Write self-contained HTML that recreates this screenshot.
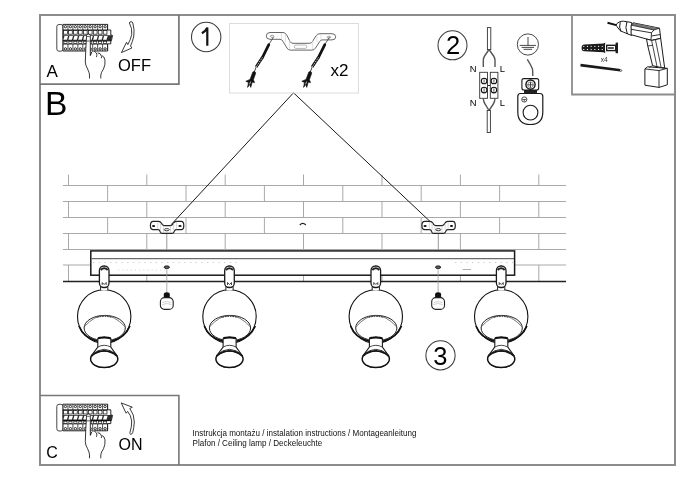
<!DOCTYPE html>
<html><head><meta charset="utf-8">
<style>
html,body{margin:0;padding:0;background:#fff;width:688px;height:486px;overflow:hidden}
svg{position:absolute;left:0;top:0;will-change:transform}
text{font-family:"Liberation Sans",sans-serif;fill:#000}
</style></head><body>
<svg width="688" height="486" viewBox="0 0 688 486">


<g id="frame" fill="none" stroke="#8c8c8c" stroke-width="2">
  <rect x="40" y="15" width="635" height="450"/>
  <path d="M40 84.2H178.9V15" stroke="#777" stroke-width="1.7"/>
  <path d="M40 395.5H178.9V465" stroke="#777" stroke-width="1.6"/>
  <path d="M572 15V94.5H675" stroke-width="1.8"/>
</g>

<!-- brick wall -->
<g id="bricks" stroke="#a9a9a9" stroke-width="1" fill="none">
  <path d="M63 185.5H566M63 201.5H566M63 217.5H566M63 233.5H566M63 249.5H566M63 265H566"/>
  <path d="M68.5 174.5V185.5M146.8 174.5V185.5M225.2 174.5V185.5M303.5 174.5V185.5M382 174.5V185.5M460.4 174.5V185.5M538.8 174.5V185.5"/>
  <path d="M107.6 185.5V201.5M186 185.5V201.5M264.4 185.5V201.5M342.8 185.5V201.5M421.2 185.5V201.5M499.6 185.5V201.5"/>
  <path d="M68.5 201.5V217.5M146.8 201.5V217.5M225.2 201.5V217.5M303.5 201.5V217.5M382 201.5V217.5M460.4 201.5V217.5M538.8 201.5V217.5"/>
  <path d="M107.6 217.5V233.5M186 217.5V233.5M264.4 217.5V233.5M342.8 217.5V233.5M421.2 217.5V233.5M499.6 217.5V233.5"/>
  <path d="M68.5 233.5V249.5M146.8 233.5V249.5M225.2 233.5V249.5M303.5 233.5V249.5M382 233.5V249.5M460.4 233.5V249.5M538.8 233.5V249.5"/>
  <path d="M107.6 249.5V265M499.6 249.5V265M186 249.5V265M264.4 249.5V265M342.8 249.5V265M421.2 249.5V265"/>
  <path d="M68.5 265V281M146.8 265V281M225.2 265V281M303.5 265V281M382 265V281M460.4 265V281M538.8 265V281"/>
  <path d="M166.8 233V251M438.3 233V251" stroke="#999"/>
</g>
<path d="M63 281.5H566" stroke="#222" stroke-width="1.3"/>
<path d="M299.8 225Q302.8 221.8 305.8 225" fill="none" stroke="#222" stroke-width="1.2"/>

<!-- suspension lines -->
<path d="M171.3 224.5L293.5 92.8L433.8 225" fill="none" stroke="#1a1a1a" stroke-width="1"/>
<g transform="translate(166.8,0)">
  <!-- centered at x=0 (center hole) -->
  <path d="M-13.6 221.3H-8.2Q-6.5 221.3 -5.3 223.2L-4.6 224.4Q-3.8 225.6 -2.4 225.6H3.6Q5 225.6 5.8 224.4L6.6 223.2Q7.6 221.3 9.4 221.3H14.6Q17 221.3 17 225.5Q17 229.7 14.6 229.7H9.6Q8.4 229.7 7.8 230.8L7 232.2Q6.4 233.4 4.6 233.4H-4.3Q-5.8 233.4 -6.4 232.2L-6.8 231.2Q-7.3 229.7 -8.6 229.7H-13.6Q-16.4 229.7 -16.4 225.5Q-16.4 221.3 -13.6 221.3Z" fill="#fff" stroke="#222" stroke-width="1.2"/>
  <path d="M-9 221.8V229.4M-6.2 223V230M-3.3 225.8V233M3.7 225.8V233M6.8 223V230M9.8 221.8V229.4" stroke="#bbb" stroke-width="0.6"/>
  <ellipse cx="-13.2" cy="225.9" rx="1.6" ry="1" fill="#111"/>
  <ellipse cx="13.2" cy="225.9" rx="1.6" ry="1" fill="#111"/>
  <ellipse cx="0" cy="229.7" rx="2.5" ry="1.1" fill="#fff" stroke="#222" stroke-width="0.9"/>
</g>
<g transform="translate(438.3,0)">
  <!-- centered at x=0 (center hole) -->
  <path d="M-13.6 221.3H-8.2Q-6.5 221.3 -5.3 223.2L-4.6 224.4Q-3.8 225.6 -2.4 225.6H3.6Q5 225.6 5.8 224.4L6.6 223.2Q7.6 221.3 9.4 221.3H14.6Q17 221.3 17 225.5Q17 229.7 14.6 229.7H9.6Q8.4 229.7 7.8 230.8L7 232.2Q6.4 233.4 4.6 233.4H-4.3Q-5.8 233.4 -6.4 232.2L-6.8 231.2Q-7.3 229.7 -8.6 229.7H-13.6Q-16.4 229.7 -16.4 225.5Q-16.4 221.3 -13.6 221.3Z" fill="#fff" stroke="#222" stroke-width="1.2"/>
  <path d="M-9 221.8V229.4M-6.2 223V230M-3.3 225.8V233M3.7 225.8V233M6.8 223V230M9.8 221.8V229.4" stroke="#bbb" stroke-width="0.6"/>
  <ellipse cx="-13.2" cy="225.9" rx="1.6" ry="1" fill="#111"/>
  <ellipse cx="13.2" cy="225.9" rx="1.6" ry="1" fill="#111"/>
  <ellipse cx="0" cy="229.7" rx="2.5" ry="1.1" fill="#fff" stroke="#222" stroke-width="0.9"/>
</g>

<!-- bar -->
<rect x="90.8" y="250.9" width="423.8" height="24.3" fill="#fff" stroke="#1a1a1a" stroke-width="1.5"/>
<path d="M91.5 258.7H514" stroke="#333" stroke-width="0.9"/>
<path d="M93 262.5H240M455 262.5H513" stroke="#bbb" stroke-width="0.8" stroke-dasharray="1.2 4.5"/>
<path d="M118 270H166" stroke="#ccc" stroke-width="0.8" stroke-dasharray="1.2 3"/>
<path d="M462.7 269.5H471" stroke="#999" stroke-width="0.8"/>

<g transform="translate(166.8,0)">
  <ellipse cx="0" cy="267.2" rx="2.6" ry="1.3" fill="#666" stroke="#111" stroke-width="1"/>
  <path d="M0 268.5V293" stroke="#999" stroke-width="0.8"/>
  <path d="M-3 298V294.5Q-3 292.3 0 292.3Q3 292.3 3 294.5V298Z" fill="#111"/>
  <rect x="-6.4" y="297.6" width="12.8" height="11.8" rx="4" ry="4" fill="#fff" stroke="#222" stroke-width="1.1"/>
  <path d="M-4.5 302.5Q0 300.5 4.5 302.5M-4.5 304.5Q0 302.5 4.5 304.5" fill="none" stroke="#bbb" stroke-width="0.7"/>
</g>
<g transform="translate(438.1,0)">
  <ellipse cx="0" cy="267.2" rx="2.6" ry="1.3" fill="#666" stroke="#111" stroke-width="1"/>
  <path d="M0 268.5V293" stroke="#999" stroke-width="0.8"/>
  <path d="M-3 298V294.5Q-3 292.3 0 292.3Q3 292.3 3 294.5V298Z" fill="#111"/>
  <rect x="-6.4" y="297.6" width="12.8" height="11.8" rx="4" ry="4" fill="#fff" stroke="#222" stroke-width="1.1"/>
  <path d="M-4.5 302.5Q0 300.5 4.5 302.5M-4.5 304.5Q0 302.5 4.5 304.5" fill="none" stroke="#bbb" stroke-width="0.7"/>
</g>
<g transform="translate(104.2,0)">
  <circle cx="0" cy="316.4" r="26.7" fill="#fff" stroke="#111" stroke-width="1.1"/>
  <ellipse cx="0.5" cy="328" rx="20.6" ry="12.6" fill="#fff" stroke="#222" stroke-width="1"/>
  <path d="M-19.6 326.5Q0 304.5 20.6 326.5" fill="none" stroke="#555" stroke-width="0.8"/>
  <path d="M-7 317.2Q0 315.6 7 317.2" fill="none" stroke="#222" stroke-width="1" stroke-dasharray="1.5 1"/>
  <path d="M-25.2 326Q-21 338 -6 341.3M25.7 326Q21 338 7 341.3" fill="none" stroke="#111" stroke-width="1.7"/>
  <path d="M-3.6 290.3V286.5H3.6V290.3" fill="#fff" stroke="#222" stroke-width="1"/>
  <rect x="-4.8" y="266" width="9.6" height="21.5" rx="4.5" ry="4.5" fill="#fff" stroke="#1a1a1a" stroke-width="1.3"/>
  <path d="M-3.5 270Q0 266.5 3.5 270" fill="none" stroke="#222" stroke-width="2"/>
  <path d="M-2 285V282.5L0 284.5L2 282.5V285" fill="none" stroke="#333" stroke-width="0.9"/>
  <path d="M-6.4 347V338.5Q-5 336.8 -3 337.6Q0 336.3 3 337.6Q5 336.8 6.6 338.5V347L13 356Q13.7 367.5 0 367.5Q-13.7 367.5 -13 356Z" fill="#fff" stroke="#1a1a1a" stroke-width="1.1"/>
  <path d="M-6.2 338.4Q0 336.6 6.4 338.4" fill="none" stroke="#111" stroke-width="1.8"/>
  <ellipse cx="0" cy="359.1" rx="13.6" ry="8.4" fill="#fff" stroke="#111" stroke-width="1.5"/><path d="M-12.5 356Q0 346.5 12.5 356" fill="none" stroke="#111" stroke-width="1.2"/>
  <path d="M-12.8 355.2Q0 343.4 12.8 355.2" fill="none" stroke="#222" stroke-width="0.9"/>
  <path d="M-6.4 347Q0 343.6 6.6 347" fill="none" stroke="#333" stroke-width="0.9"/>
</g>
<g transform="translate(229.5,0)">
  <circle cx="0" cy="316.4" r="26.7" fill="#fff" stroke="#111" stroke-width="1.1"/>
  <ellipse cx="0.5" cy="328" rx="20.6" ry="12.6" fill="#fff" stroke="#222" stroke-width="1"/>
  <path d="M-19.6 326.5Q0 304.5 20.6 326.5" fill="none" stroke="#555" stroke-width="0.8"/>
  <path d="M-7 317.2Q0 315.6 7 317.2" fill="none" stroke="#222" stroke-width="1" stroke-dasharray="1.5 1"/>
  <path d="M-25.2 326Q-21 338 -6 341.3M25.7 326Q21 338 7 341.3" fill="none" stroke="#111" stroke-width="1.7"/>
  <path d="M-3.6 290.3V286.5H3.6V290.3" fill="#fff" stroke="#222" stroke-width="1"/>
  <rect x="-4.8" y="266" width="9.6" height="21.5" rx="4.5" ry="4.5" fill="#fff" stroke="#1a1a1a" stroke-width="1.3"/>
  <path d="M-3.5 270Q0 266.5 3.5 270" fill="none" stroke="#222" stroke-width="2"/>
  <path d="M-2 285V282.5L0 284.5L2 282.5V285" fill="none" stroke="#333" stroke-width="0.9"/>
  <path d="M-6.4 347V338.5Q-5 336.8 -3 337.6Q0 336.3 3 337.6Q5 336.8 6.6 338.5V347L13 356Q13.7 367.5 0 367.5Q-13.7 367.5 -13 356Z" fill="#fff" stroke="#1a1a1a" stroke-width="1.1"/>
  <path d="M-6.2 338.4Q0 336.6 6.4 338.4" fill="none" stroke="#111" stroke-width="1.8"/>
  <ellipse cx="0" cy="359.1" rx="13.6" ry="8.4" fill="#fff" stroke="#111" stroke-width="1.5"/><path d="M-12.5 356Q0 346.5 12.5 356" fill="none" stroke="#111" stroke-width="1.2"/>
  <path d="M-12.8 355.2Q0 343.4 12.8 355.2" fill="none" stroke="#222" stroke-width="0.9"/>
  <path d="M-6.4 347Q0 343.6 6.6 347" fill="none" stroke="#333" stroke-width="0.9"/>
</g>
<g transform="translate(375.8,0)">
  <circle cx="0" cy="316.4" r="26.7" fill="#fff" stroke="#111" stroke-width="1.1"/>
  <ellipse cx="0.5" cy="328" rx="20.6" ry="12.6" fill="#fff" stroke="#222" stroke-width="1"/>
  <path d="M-19.6 326.5Q0 304.5 20.6 326.5" fill="none" stroke="#555" stroke-width="0.8"/>
  <path d="M-7 317.2Q0 315.6 7 317.2" fill="none" stroke="#222" stroke-width="1" stroke-dasharray="1.5 1"/>
  <path d="M-25.2 326Q-21 338 -6 341.3M25.7 326Q21 338 7 341.3" fill="none" stroke="#111" stroke-width="1.7"/>
  <path d="M-3.6 290.3V286.5H3.6V290.3" fill="#fff" stroke="#222" stroke-width="1"/>
  <rect x="-4.8" y="266" width="9.6" height="21.5" rx="4.5" ry="4.5" fill="#fff" stroke="#1a1a1a" stroke-width="1.3"/>
  <path d="M-3.5 270Q0 266.5 3.5 270" fill="none" stroke="#222" stroke-width="2"/>
  <path d="M-2 285V282.5L0 284.5L2 282.5V285" fill="none" stroke="#333" stroke-width="0.9"/>
  <path d="M-6.4 347V338.5Q-5 336.8 -3 337.6Q0 336.3 3 337.6Q5 336.8 6.6 338.5V347L13 356Q13.7 367.5 0 367.5Q-13.7 367.5 -13 356Z" fill="#fff" stroke="#1a1a1a" stroke-width="1.1"/>
  <path d="M-6.2 338.4Q0 336.6 6.4 338.4" fill="none" stroke="#111" stroke-width="1.8"/>
  <ellipse cx="0" cy="359.1" rx="13.6" ry="8.4" fill="#fff" stroke="#111" stroke-width="1.5"/><path d="M-12.5 356Q0 346.5 12.5 356" fill="none" stroke="#111" stroke-width="1.2"/>
  <path d="M-12.8 355.2Q0 343.4 12.8 355.2" fill="none" stroke="#222" stroke-width="0.9"/>
  <path d="M-6.4 347Q0 343.6 6.6 347" fill="none" stroke="#333" stroke-width="0.9"/>
</g>
<g transform="translate(501.2,0)">
  <circle cx="0" cy="316.4" r="26.7" fill="#fff" stroke="#111" stroke-width="1.1"/>
  <ellipse cx="0.5" cy="328" rx="20.6" ry="12.6" fill="#fff" stroke="#222" stroke-width="1"/>
  <path d="M-19.6 326.5Q0 304.5 20.6 326.5" fill="none" stroke="#555" stroke-width="0.8"/>
  <path d="M-7 317.2Q0 315.6 7 317.2" fill="none" stroke="#222" stroke-width="1" stroke-dasharray="1.5 1"/>
  <path d="M-25.2 326Q-21 338 -6 341.3M25.7 326Q21 338 7 341.3" fill="none" stroke="#111" stroke-width="1.7"/>
  <path d="M-3.6 290.3V286.5H3.6V290.3" fill="#fff" stroke="#222" stroke-width="1"/>
  <rect x="-4.8" y="266" width="9.6" height="21.5" rx="4.5" ry="4.5" fill="#fff" stroke="#1a1a1a" stroke-width="1.3"/>
  <path d="M-3.5 270Q0 266.5 3.5 270" fill="none" stroke="#222" stroke-width="2"/>
  <path d="M-2 285V282.5L0 284.5L2 282.5V285" fill="none" stroke="#333" stroke-width="0.9"/>
  <path d="M-6.4 347V338.5Q-5 336.8 -3 337.6Q0 336.3 3 337.6Q5 336.8 6.6 338.5V347L13 356Q13.7 367.5 0 367.5Q-13.7 367.5 -13 356Z" fill="#fff" stroke="#1a1a1a" stroke-width="1.1"/>
  <path d="M-6.2 338.4Q0 336.6 6.4 338.4" fill="none" stroke="#111" stroke-width="1.8"/>
  <ellipse cx="0" cy="359.1" rx="13.6" ry="8.4" fill="#fff" stroke="#111" stroke-width="1.5"/><path d="M-12.5 356Q0 346.5 12.5 356" fill="none" stroke="#111" stroke-width="1.2"/>
  <path d="M-12.8 355.2Q0 343.4 12.8 355.2" fill="none" stroke="#222" stroke-width="0.9"/>
  <path d="M-6.4 347Q0 343.6 6.6 347" fill="none" stroke="#333" stroke-width="0.9"/>
</g>

<g transform="translate(0,0)">
<rect x="56.8" y="24.5" width="6.3" height="26.7" rx="2.2" fill="#fff" stroke="#333" stroke-width="0.9"/>
<path d="M63 24.4H107.6V30H110.8V35L112.5 35.5L111.5 40.3H110.8V43.8H107.6V51H63Z" fill="#fff" stroke="#111" stroke-width="0.9"/>
<path d="M63 35.2H112.3L111.3 40.6H63Z" fill="#2a2a2a"/>
<path d="M63 40.8H111.3" stroke="#000" stroke-width="1"/>
<path d="M67.95 24.4V30M67.95 44V51" stroke="#222" stroke-width="0.8"/>
<circle cx="65.47" cy="26.7" r="1.15" fill="#fff" stroke="#000" stroke-width="0.8"/>
<rect x="63.60" y="30.6" width="3.75" height="3.6" fill="#fff" stroke="#111" stroke-width="0.75"/>
<path d="M64.50 35.9H68.05L66.95 39.7H63.40Z" fill="#fff"/>
<rect x="63.90" y="41.5" width="3.15" height="2" fill="#fff" stroke="#222" stroke-width="0.7"/>
<circle cx="65.47" cy="48.9" r="1.2" fill="#fff" stroke="#000" stroke-width="0.8"/>
<path d="M72.90 24.4V30M72.90 44V51" stroke="#222" stroke-width="0.8"/>
<circle cx="70.42" cy="26.7" r="1.15" fill="#fff" stroke="#000" stroke-width="0.8"/>
<rect x="68.55" y="30.6" width="3.75" height="3.6" fill="#fff" stroke="#111" stroke-width="0.75"/>
<path d="M69.45 35.9H73.00L71.90 39.7H68.35Z" fill="#fff"/>
<rect x="68.85" y="41.5" width="3.15" height="2" fill="#fff" stroke="#222" stroke-width="0.7"/>
<circle cx="70.42" cy="48.9" r="1.2" fill="#fff" stroke="#000" stroke-width="0.8"/>
<path d="M77.85 24.4V30M77.85 44V51" stroke="#222" stroke-width="0.8"/>
<circle cx="75.38" cy="26.7" r="1.15" fill="#fff" stroke="#000" stroke-width="0.8"/>
<rect x="73.50" y="30.6" width="3.75" height="3.6" fill="#fff" stroke="#111" stroke-width="0.75"/>
<path d="M74.40 35.9H77.95L76.85 39.7H73.30Z" fill="#fff"/>
<rect x="73.80" y="41.5" width="3.15" height="2" fill="#fff" stroke="#222" stroke-width="0.7"/>
<circle cx="75.38" cy="48.9" r="1.2" fill="#fff" stroke="#000" stroke-width="0.8"/>
<path d="M82.80 24.4V30M82.80 44V51" stroke="#222" stroke-width="0.8"/>
<circle cx="80.32" cy="26.7" r="1.15" fill="#fff" stroke="#000" stroke-width="0.8"/>
<rect x="78.45" y="30.6" width="3.75" height="3.6" fill="#fff" stroke="#111" stroke-width="0.75"/>
<path d="M79.35 35.9H82.90L81.80 39.7H78.25Z" fill="#fff"/>
<rect x="78.75" y="41.5" width="3.15" height="2" fill="#fff" stroke="#222" stroke-width="0.7"/>
<circle cx="80.32" cy="48.9" r="1.2" fill="#fff" stroke="#000" stroke-width="0.8"/>
<path d="M87.75 24.4V30M87.75 44V51" stroke="#222" stroke-width="0.8"/>
<circle cx="85.27" cy="26.7" r="1.15" fill="#fff" stroke="#000" stroke-width="0.8"/>
<rect x="83.40" y="30.6" width="3.75" height="3.6" fill="#fff" stroke="#111" stroke-width="0.75"/>
<path d="M84.30 35.9H87.85L86.75 39.7H83.20Z" fill="#fff"/>
<rect x="83.70" y="41.5" width="3.15" height="2" fill="#fff" stroke="#222" stroke-width="0.7"/>
<circle cx="85.27" cy="48.9" r="1.2" fill="#fff" stroke="#000" stroke-width="0.8"/>
<path d="M92.70 24.4V30M92.70 44V51" stroke="#222" stroke-width="0.8"/>
<circle cx="90.22" cy="26.7" r="1.15" fill="#fff" stroke="#000" stroke-width="0.8"/>
<rect x="88.35" y="30.6" width="3.75" height="3.6" fill="#fff" stroke="#111" stroke-width="0.75"/>
<path d="M89.25 35.9H92.80L91.70 39.7H88.15Z" fill="#fff"/>
<rect x="88.65" y="41.5" width="3.15" height="2" fill="#fff" stroke="#222" stroke-width="0.7"/>
<circle cx="90.22" cy="48.9" r="1.2" fill="#fff" stroke="#000" stroke-width="0.8"/>
<path d="M97.65 24.4V30M97.65 44V51" stroke="#222" stroke-width="0.8"/>
<circle cx="95.17" cy="26.7" r="1.15" fill="#fff" stroke="#000" stroke-width="0.8"/>
<rect x="93.30" y="30.6" width="3.75" height="3.6" fill="#fff" stroke="#111" stroke-width="0.75"/>
<path d="M94.20 35.9H97.75L96.65 39.7H93.10Z" fill="#fff"/>
<rect x="93.60" y="41.5" width="3.15" height="2" fill="#fff" stroke="#222" stroke-width="0.7"/>
<circle cx="95.17" cy="48.9" r="1.2" fill="#fff" stroke="#000" stroke-width="0.8"/>
<path d="M102.60 24.4V30M102.60 44V51" stroke="#222" stroke-width="0.8"/>
<circle cx="100.12" cy="26.7" r="1.15" fill="#fff" stroke="#000" stroke-width="0.8"/>
<rect x="98.25" y="30.6" width="3.75" height="3.6" fill="#fff" stroke="#111" stroke-width="0.75"/>
<path d="M99.15 35.9H102.70L101.60 39.7H98.05Z" fill="#fff"/>
<rect x="98.55" y="41.5" width="3.15" height="2" fill="#fff" stroke="#222" stroke-width="0.7"/>
<circle cx="100.12" cy="48.9" r="1.2" fill="#fff" stroke="#000" stroke-width="0.8"/>
<path d="M107.55 24.4V30M107.55 44V51" stroke="#222" stroke-width="0.8"/>
<circle cx="105.07" cy="26.7" r="1.15" fill="#fff" stroke="#000" stroke-width="0.8"/>
<rect x="103.20" y="30.6" width="3.75" height="3.6" fill="#fff" stroke="#111" stroke-width="0.75"/>
<path d="M104.10 35.9H107.65L106.55 39.7H103.00Z" fill="#fff"/>
<rect x="103.50" y="41.5" width="3.15" height="2" fill="#fff" stroke="#222" stroke-width="0.7"/>
<circle cx="105.07" cy="48.9" r="1.2" fill="#fff" stroke="#000" stroke-width="0.8"/>
<path d="M63 29.9H107.6M63 44.1H107.6" stroke="#111" stroke-width="0.8"/>
<path d="M86.6 35.5Q86.6 34.2 88.4 34.2Q90.3 34.2 90.3 35.5V55.6L90.6 52.5Q91.5 50.4 93 50.4Q95.5 50.6 96.8 54.1V57Q97 53.6 98.5 52.7Q100.5 52.5 101.6 56.4V58.2Q102 55.6 102.6 55.6Q104.2 56.2 105 60Q105.4 65 103.5 69Q101 72.5 100.7 74.6V79.5H89.6V75Q89.4 72.7 87.8 69.5Q85.3 65 85.3 62Q85.8 50 86.6 35.5Z" fill="#fff" stroke="none"/>
<path d="M86.6 35.5Q86.6 34.2 88.4 34.2Q90.3 34.2 90.3 35.5V55.6M86.6 35.5Q85.6 50 85.3 62Q85.3 65 87.6 69Q89.4 72.5 89.5 75V78.5M92 51.2Q95.5 50.6 96.8 54.1Q97 55.8 96.4 57.1M97.6 52.9Q100.5 52.6 101.6 56.4L101.3 58.2M102 55.6Q104.2 56.2 105 60Q105.4 65 103.5 69Q101 72.5 100.8 75V78.5" fill="none" stroke="#222" stroke-width="0.9"/>
<path d="M87.2 36.5H89.7M87 41H89.8" stroke="#333" stroke-width="0.8"/>
<path d="M90.4 55.5L91.6 52" stroke="#111" stroke-width="1"/>
</g>
<g transform="translate(0,379.8)">
<rect x="56.8" y="24.5" width="6.3" height="26.7" rx="2.2" fill="#fff" stroke="#333" stroke-width="0.9"/>
<path d="M63 24.4H107.6V30H110.8V35L112.5 35.5L111.5 40.3H110.8V43.8H107.6V51H63Z" fill="#fff" stroke="#111" stroke-width="0.9"/>
<path d="M63 35.2H112.3L111.3 40.6H63Z" fill="#2a2a2a"/>
<path d="M63 40.8H111.3" stroke="#000" stroke-width="1"/>
<path d="M67.95 24.4V30M67.95 44V51" stroke="#222" stroke-width="0.8"/>
<circle cx="65.47" cy="26.7" r="1.15" fill="#fff" stroke="#000" stroke-width="0.8"/>
<rect x="63.60" y="30.6" width="3.75" height="3.6" fill="#fff" stroke="#111" stroke-width="0.75"/>
<path d="M64.50 35.9H68.05L66.95 39.7H63.40Z" fill="#fff"/>
<rect x="63.90" y="41.5" width="3.15" height="2" fill="#fff" stroke="#222" stroke-width="0.7"/>
<circle cx="65.47" cy="48.9" r="1.2" fill="#fff" stroke="#000" stroke-width="0.8"/>
<path d="M72.90 24.4V30M72.90 44V51" stroke="#222" stroke-width="0.8"/>
<circle cx="70.42" cy="26.7" r="1.15" fill="#fff" stroke="#000" stroke-width="0.8"/>
<rect x="68.55" y="30.6" width="3.75" height="3.6" fill="#fff" stroke="#111" stroke-width="0.75"/>
<path d="M69.45 35.9H73.00L71.90 39.7H68.35Z" fill="#fff"/>
<rect x="68.85" y="41.5" width="3.15" height="2" fill="#fff" stroke="#222" stroke-width="0.7"/>
<circle cx="70.42" cy="48.9" r="1.2" fill="#fff" stroke="#000" stroke-width="0.8"/>
<path d="M77.85 24.4V30M77.85 44V51" stroke="#222" stroke-width="0.8"/>
<circle cx="75.38" cy="26.7" r="1.15" fill="#fff" stroke="#000" stroke-width="0.8"/>
<rect x="73.50" y="30.6" width="3.75" height="3.6" fill="#fff" stroke="#111" stroke-width="0.75"/>
<path d="M74.40 35.9H77.95L76.85 39.7H73.30Z" fill="#fff"/>
<rect x="73.80" y="41.5" width="3.15" height="2" fill="#fff" stroke="#222" stroke-width="0.7"/>
<circle cx="75.38" cy="48.9" r="1.2" fill="#fff" stroke="#000" stroke-width="0.8"/>
<path d="M82.80 24.4V30M82.80 44V51" stroke="#222" stroke-width="0.8"/>
<circle cx="80.32" cy="26.7" r="1.15" fill="#fff" stroke="#000" stroke-width="0.8"/>
<rect x="78.45" y="30.6" width="3.75" height="3.6" fill="#fff" stroke="#111" stroke-width="0.75"/>
<path d="M79.35 35.9H82.90L81.80 39.7H78.25Z" fill="#fff"/>
<rect x="78.75" y="41.5" width="3.15" height="2" fill="#fff" stroke="#222" stroke-width="0.7"/>
<circle cx="80.32" cy="48.9" r="1.2" fill="#fff" stroke="#000" stroke-width="0.8"/>
<path d="M87.75 24.4V30M87.75 44V51" stroke="#222" stroke-width="0.8"/>
<circle cx="85.27" cy="26.7" r="1.15" fill="#fff" stroke="#000" stroke-width="0.8"/>
<rect x="83.40" y="30.6" width="3.75" height="3.6" fill="#fff" stroke="#111" stroke-width="0.75"/>
<path d="M84.30 35.9H87.85L86.75 39.7H83.20Z" fill="#fff"/>
<rect x="83.70" y="41.5" width="3.15" height="2" fill="#fff" stroke="#222" stroke-width="0.7"/>
<circle cx="85.27" cy="48.9" r="1.2" fill="#fff" stroke="#000" stroke-width="0.8"/>
<path d="M92.70 24.4V30M92.70 44V51" stroke="#222" stroke-width="0.8"/>
<circle cx="90.22" cy="26.7" r="1.15" fill="#fff" stroke="#000" stroke-width="0.8"/>
<rect x="88.35" y="30.6" width="3.75" height="3.6" fill="#fff" stroke="#111" stroke-width="0.75"/>
<path d="M89.25 35.9H92.80L91.70 39.7H88.15Z" fill="#fff"/>
<rect x="88.65" y="41.5" width="3.15" height="2" fill="#fff" stroke="#222" stroke-width="0.7"/>
<circle cx="90.22" cy="48.9" r="1.2" fill="#fff" stroke="#000" stroke-width="0.8"/>
<path d="M97.65 24.4V30M97.65 44V51" stroke="#222" stroke-width="0.8"/>
<circle cx="95.17" cy="26.7" r="1.15" fill="#fff" stroke="#000" stroke-width="0.8"/>
<rect x="93.30" y="30.6" width="3.75" height="3.6" fill="#fff" stroke="#111" stroke-width="0.75"/>
<path d="M94.20 35.9H97.75L96.65 39.7H93.10Z" fill="#fff"/>
<rect x="93.60" y="41.5" width="3.15" height="2" fill="#fff" stroke="#222" stroke-width="0.7"/>
<circle cx="95.17" cy="48.9" r="1.2" fill="#fff" stroke="#000" stroke-width="0.8"/>
<path d="M102.60 24.4V30M102.60 44V51" stroke="#222" stroke-width="0.8"/>
<circle cx="100.12" cy="26.7" r="1.15" fill="#fff" stroke="#000" stroke-width="0.8"/>
<rect x="98.25" y="30.6" width="3.75" height="3.6" fill="#fff" stroke="#111" stroke-width="0.75"/>
<path d="M99.15 35.9H102.70L101.60 39.7H98.05Z" fill="#fff"/>
<rect x="98.55" y="41.5" width="3.15" height="2" fill="#fff" stroke="#222" stroke-width="0.7"/>
<circle cx="100.12" cy="48.9" r="1.2" fill="#fff" stroke="#000" stroke-width="0.8"/>
<path d="M107.55 24.4V30M107.55 44V51" stroke="#222" stroke-width="0.8"/>
<circle cx="105.07" cy="26.7" r="1.15" fill="#fff" stroke="#000" stroke-width="0.8"/>
<rect x="103.20" y="30.6" width="3.75" height="3.6" fill="#fff" stroke="#111" stroke-width="0.75"/>
<path d="M104.10 35.9H107.65L106.55 39.7H103.00Z" fill="#fff"/>
<rect x="103.50" y="41.5" width="3.15" height="2" fill="#fff" stroke="#222" stroke-width="0.7"/>
<circle cx="105.07" cy="48.9" r="1.2" fill="#fff" stroke="#000" stroke-width="0.8"/>
<path d="M63 29.9H107.6M63 44.1H107.6" stroke="#111" stroke-width="0.8"/>
<path d="M86.6 35.5Q86.6 34.2 88.4 34.2Q90.3 34.2 90.3 35.5V55.6L90.6 52.5Q91.5 50.4 93 50.4Q95.5 50.6 96.8 54.1V57Q97 53.6 98.5 52.7Q100.5 52.5 101.6 56.4V58.2Q102 55.6 102.6 55.6Q104.2 56.2 105 60Q105.4 65 103.5 69Q101 72.5 100.7 74.6V79.5H89.6V75Q89.4 72.7 87.8 69.5Q85.3 65 85.3 62Q85.8 50 86.6 35.5Z" fill="#fff" stroke="none"/>
<path d="M86.6 35.5Q86.6 34.2 88.4 34.2Q90.3 34.2 90.3 35.5V55.6M86.6 35.5Q85.6 50 85.3 62Q85.3 65 87.6 69Q89.4 72.5 89.5 75V78.5M92 51.2Q95.5 50.6 96.8 54.1Q97 55.8 96.4 57.1M97.6 52.9Q100.5 52.6 101.6 56.4L101.3 58.2M102 55.6Q104.2 56.2 105 60Q105.4 65 103.5 69Q101 72.5 100.8 75V78.5" fill="none" stroke="#222" stroke-width="0.9"/>
<path d="M87.2 36.5H89.7M87 41H89.8" stroke="#333" stroke-width="0.8"/>
<path d="M90.4 55.5L91.6 52" stroke="#111" stroke-width="1"/>
</g>
<!-- OFF arrow -->
<path d="M129.4 23Q129.6 21.7 131 21.7Q132.6 21.8 132.8 23Q134.8 30 133.8 36Q132.6 42 130.5 46L131.9 48L121.4 52.6L126.5 42.3L127.8 44.6Q130.6 40 131.7 34.5Q132.5 28.5 129.4 23Z" fill="#fff" stroke="#222" stroke-width="0.9" stroke-linejoin="miter"/>
<!-- ON arrow -->
<path d="M121.2 402.9L132.3 407.2L129.8 408.5Q134.6 415 134.3 422Q134 428 132.7 432.6Q132 434.5 130.6 434.3Q129.5 434 130 432.2Q131.8 427 131.7 421Q131 415 127.6 411.4L126.1 413.2Z" fill="#fff" stroke="#222" stroke-width="0.9"/>

<!-- panel 1 bracket -->
<g id="p1">
<path d="M270 32.5H283Q285.5 32.5 287 35.5L290 41.5Q291 43.3 293 43.3H309.5Q311.5 43.3 312.5 41.5L316 35.8Q317.3 33.7 320 33.7H332Q335.7 33.8 335.7 36.8Q335.7 39.9 332 39.9H322Q320.5 39.9 319.6 41.8L315.5 48Q314.5 50.1 311.8 50.1H290.3Q288 50.1 287 48L283 41.5Q282.2 39.3 280 39.3H270Q266.3 39.3 266.3 35.9Q266.3 32.5 270 32.5Z" fill="#fff" stroke="#666" stroke-width="1"/>
<path d="M281.5 33V39.3M285.5 34V42M289.5 40V49M312.7 40V49M317 35V42M321 34V40" stroke="#ccc" stroke-width="0.6"/>
<rect x="294.3" y="45" width="12.5" height="3.4" rx="1.5" fill="none" stroke="#999" stroke-width="0.7"/>
<ellipse cx="272.2" cy="36.3" rx="1.8" ry="1" fill="#fff" stroke="#666" stroke-width="0.6"/>
<ellipse cx="328.9" cy="37.3" rx="1.8" ry="1" fill="#fff" stroke="#666" stroke-width="0.6"/>
</g>
<g>
<path d="M273.4 37.2L268.8 44.6" stroke="#333" stroke-width="0.8"/>
<path d="M268.8 44.6L262.5 57.3" stroke="#111" stroke-width="2.7" stroke-linecap="round"/>
<path d="M262.5 57.3L256.1 67.1" stroke="#111" stroke-width="2.8"/>
<path d="M262.4 57.5L256.2 67" stroke="#fff" stroke-width="0.9" stroke-dasharray="1.1 1"/>
<path d="M256.1 67.1L254.4 71.8" stroke="#333" stroke-width="0.9"/>
<path d="M254.6 71.3L255.8 73L253.4 79.8L254.6 82.6L252.2 82.2L250.8 87.4L249.6 84.6L247.6 87.4L248.4 82.4L245.8 81.2L250 79.4L252.8 72Z" fill="#111" stroke="#111" stroke-width="0.6" stroke-linejoin="round"/>
<path d="M249.7 84.3L250.6 81.5" stroke="#fff" stroke-width="0.7"/>
</g>
<g transform="translate(56,0)">
<path d="M273.4 37.2L268.8 44.6" stroke="#333" stroke-width="0.8"/>
<path d="M268.8 44.6L262.5 57.3" stroke="#111" stroke-width="2.7" stroke-linecap="round"/>
<path d="M262.5 57.3L256.1 67.1" stroke="#111" stroke-width="2.8"/>
<path d="M262.4 57.5L256.2 67" stroke="#fff" stroke-width="0.9" stroke-dasharray="1.1 1"/>
<path d="M256.1 67.1L254.4 71.8" stroke="#333" stroke-width="0.9"/>
<path d="M254.6 71.3L255.8 73L253.4 79.8L254.6 82.6L252.2 82.2L250.8 87.4L249.6 84.6L247.6 87.4L248.4 82.4L245.8 81.2L250 79.4L252.8 72Z" fill="#111" stroke="#111" stroke-width="0.6" stroke-linejoin="round"/>
<path d="M249.7 84.3L250.6 81.5" stroke="#fff" stroke-width="0.7"/>
</g>

<!-- panel 2: wire connector -->
<g id="p2" fill="none" stroke="#333">
<rect x="487.4" y="27.6" width="3.4" height="22" fill="#fff" stroke-width="0.9"/>
<path d="M489 49.5L484.6 56Q483.3 58 483.3 60.5V67M489 49.5L493.6 56Q495 58 495 60.5V67" stroke="#555" stroke-width="1.4"/>
<rect x="479.7" y="72.3" width="7.8" height="26" fill="#fff" stroke-width="0.9"/>
<rect x="490.3" y="72.3" width="7.6" height="26" fill="#fff" stroke-width="0.9"/>
<circle cx="484.1" cy="81" r="2.8" stroke="#111" stroke-width="1.1"/>
<circle cx="493.9" cy="81" r="2.8" stroke="#111" stroke-width="1.1"/>
<circle cx="484.1" cy="90.1" r="2.8" stroke="#111" stroke-width="1.1"/>
<circle cx="493.9" cy="90.1" r="2.8" stroke="#111" stroke-width="1.1"/>
<path d="M484.1 79.3V82.7M493.9 79.3V82.7M484.1 88.4V91.8M493.9 88.4V91.8" stroke="#111" stroke-width="0.7"/>
<path d="M487.5 85.5L490.3 85.5" stroke="#222" stroke-width="1"/>
<path d="M483.3 98.5Q483.5 102 485 104L489 110.5M495 98.5Q494.8 102 493.3 104L489 110.5" stroke="#555" stroke-width="1.4"/>
<rect x="487.2" y="110.5" width="3.2" height="22" fill="#fff" stroke-width="0.9"/>
</g>
<text x="469.8" y="72.3" font-size="9.4" style="fill:#000">N</text>
<text x="499.8" y="72.3" font-size="9.4" style="fill:#000">L</text>
<text x="469.8" y="106.3" font-size="9.4" style="fill:#000">N</text>
<text x="499.8" y="106.3" font-size="9.4" style="fill:#000">L</text>

<!-- ground symbol -->
<g fill="none" stroke="#333">
<circle cx="527.9" cy="44.5" r="10.6" stroke-width="0.9"/>
<path d="M528 37V45.4M519.7 45.4H536M521.6 47.4H534M523.6 49.3H532" stroke-width="0.9"/>
<path d="M527.3 59.3Q531 65 532.5 69Q532.8 72 532.8 76" stroke="#555" stroke-width="1.4"/>
</g>
<!-- lug -->
<g>
<path d="M517.8 96.5Q517.8 93.5 520.5 93.5H540.1Q542.8 93.5 542.8 96.5V112Q542.8 124.5 530.3 124.5Q517.8 124.5 517.8 112Z" fill="#fff" stroke="#1a1a1a" stroke-width="1.2"/>
<circle cx="530.5" cy="112.6" r="7.4" fill="#fff" stroke="#1a1a1a" stroke-width="1.1"/>
<circle cx="524.3" cy="99.5" r="2.6" fill="none" stroke="#222" stroke-width="0.8"/>
<path d="M522.3 99.5H526.3M524.3 99.5V101.5" stroke="#222" stroke-width="0.7"/>
<rect x="524" y="88.5" width="13" height="5" fill="#222"/>
<rect x="521.9" y="78.6" width="16.8" height="11.4" rx="2" fill="#fff" stroke="#1a1a1a" stroke-width="1.1"/>
<circle cx="530.5" cy="84.6" r="4.6" fill="#fff" stroke="#111" stroke-width="1.4"/>
<path d="M530.5 81.8V87.8M527.5 84.8H533.5" stroke="#222" stroke-width="0.8"/>
<circle cx="530.5" cy="84.8" r="2.8" fill="none" stroke="#444" stroke-width="0.6"/>
</g>

<!-- panel 3: dowel, screw, drill -->
<g>
<path d="M584.2 44.6Q581.6 44.8 581.6 47.9Q581.6 51 584.2 51.3L603.5 52.2L605.2 53.3V42.5L603.5 43.6Z" fill="#1c1c1c"/>
<path d="M583.2 46.4H603M583.2 49.5H603" stroke="#fff" stroke-width="1" stroke-dasharray="1.1 2.6"/>
<path d="M605.5 44.4V51.4" stroke="#fff" stroke-width="0.9"/>
<rect x="606" y="44.6" width="10.5" height="6.7" fill="#1c1c1c"/>
<rect x="607.4" y="46" width="7.6" height="3.9" fill="#fff"/>
<path d="M608 48H613.8" stroke="#444" stroke-width="1.8"/>
<rect x="615.6" y="42.6" width="2.4" height="10.6" fill="#1c1c1c"/>
<path d="M580.5 65.1L620.5 70.3" stroke="#1a1a1a" stroke-width="2.6"/>
<path d="M620.4 69L622 70.7L620.2 71.6" fill="#eee" stroke="#444" stroke-width="0.8"/>
</g>
<text x="600.8" y="61.9" font-size="6.6" style="fill:#333">x4</text>
<g fill="#fff" stroke="#1a1a1a" stroke-width="1" stroke-linejoin="round">
<path d="M607.5 22.7L616.3 25.1" stroke="#111" stroke-width="2"/>
<path d="M616.2 25.1Q617 22.8 619 22.2Q621 21 623.3 21.2L631.7 22.5V35.5L623.8 32.3Q620 31.5 618 28Q616.8 26.6 616.2 25.1Z"/>
<path d="M620.3 22.3Q618.6 27 621 31.6M626.9 21.9Q624.6 27.5 627.4 34" fill="none"/>
<path d="M633.6 22.9L659.5 28.2L660.7 38.4L651.7 40.4L646.5 39L631.1 34.7V25.1Z"/>
<path d="M633.6 22.9L631.1 25.1L653.9 30L659.5 28.2" fill="#777" stroke-width="0.8"/>
<path d="M631.1 29.3L651.5 32.8M653.9 30L651.5 32.8L651 40M651.5 36L660.4 34.5" fill="none" stroke-width="0.9"/>
<path d="M646.5 39L647.8 46L652.6 65.7L664.7 68.3L660.7 38.4L651.7 40.4Z"/>
<path d="M651.6 40.5L657 66.5M655.5 40L661 67M647.8 46L652.8 45.2" fill="none" stroke-width="0.8"/>
<path d="M644.9 68.9L647.5 66.8L667.3 68.3V84.8L659 87.4L644.9 85.2Z"/>
<path d="M644.9 68.9L659 70.6L667.3 68.3M659 70.6V87.4" fill="none" stroke-width="0.9"/>
<path d="M649 67.4L652.6 65.7M664.7 68.3L662 67.8" fill="none" stroke-width="0.8"/>
</g>

<g id="circles" fill="none" stroke="#3a3a3a" stroke-width="1.05">
  <circle cx="206.2" cy="37" r="14.7"/>
  <circle cx="452.5" cy="45.3" r="14.5"/>
  <circle cx="440.5" cy="355.4" r="14.6"/>
</g>
<rect x="229.5" y="23.5" width="129" height="69.5" fill="none" stroke="#dcdcdc" stroke-width="1"/>

<text x="46.5" y="76.8" font-size="17">A</text>
<text x="118" y="70.7" font-size="16.5">OFF</text>
<text x="44.9" y="115.3" font-size="33.6">B</text>
<text x="118.5" y="450.4" font-size="16">ON</text>
<text x="46.3" y="457.8" font-size="16">C</text>
<path d="M201.9 33.3Q205.6 31.2 207.3 27.6V45.7" fill="none" stroke="#111" stroke-width="2.2"/>
<text x="446" y="54.3" font-size="25.5">2</text>
<text x="433.2" y="364.6" font-size="25.5">3</text>
<text x="330.5" y="75.7" font-size="17">x2</text>
<text x="192.5" y="435.7" font-size="8.8" textLength="224" lengthAdjust="spacingAndGlyphs" style="fill:#111">Instrukcja montażu / instalation instructions / Montageanleitung</text>
<text x="192.5" y="445.8" font-size="8.8" textLength="129.7" lengthAdjust="spacingAndGlyphs" style="fill:#111">Plafon / Ceiling lamp / Deckeleuchte</text>
</svg>
</body></html>
